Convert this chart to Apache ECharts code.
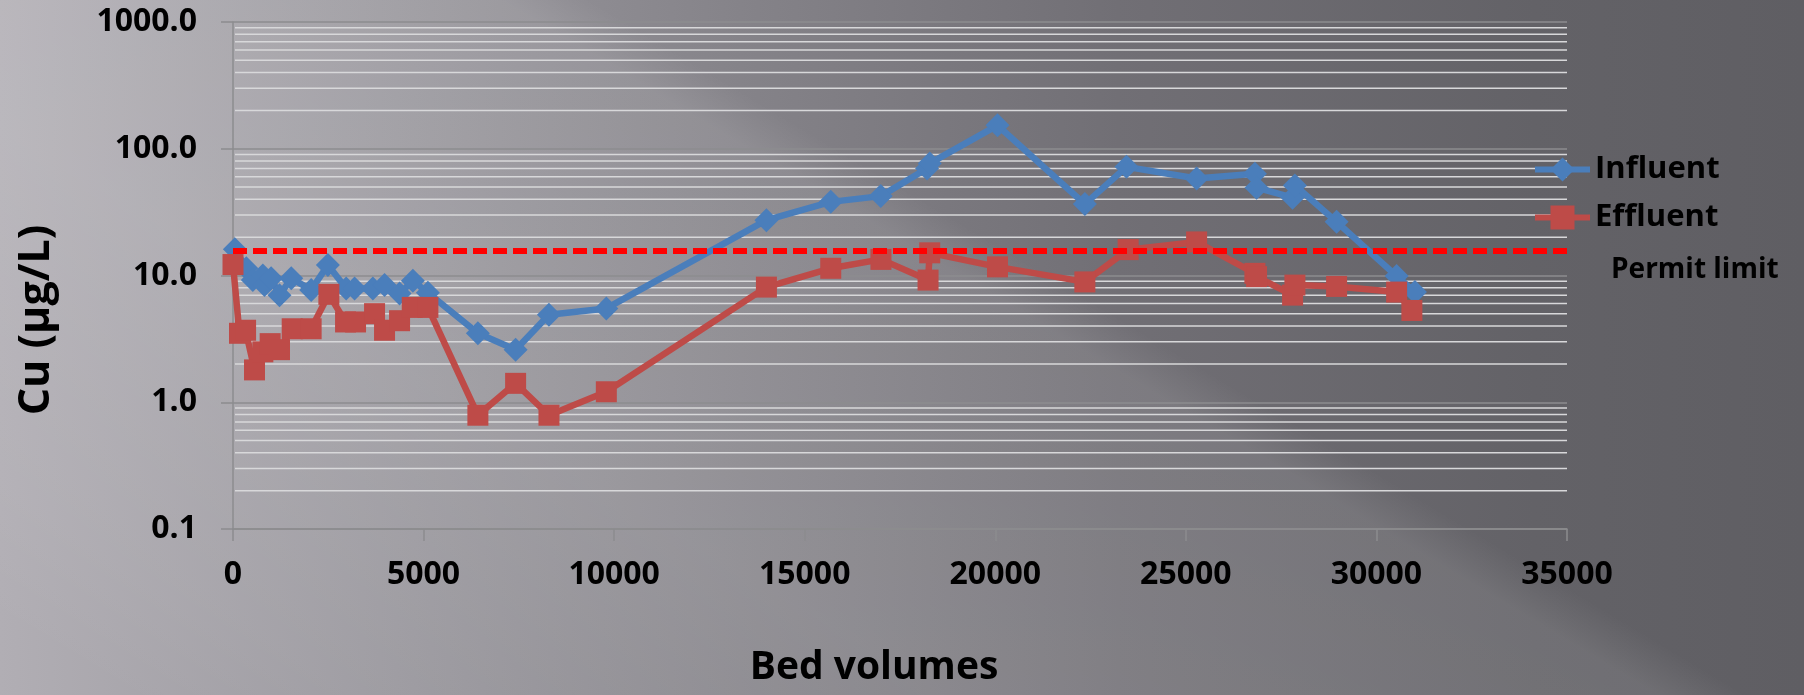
<!DOCTYPE html>
<html lang="en">
<head>
<meta charset="utf-8">
<title>Cu - bed volumes</title>
<script src="https://cdn.jsdelivr.net/npm/echarts@6/dist/echarts.min.js"></script>
<style>
    html, body { margin: 0; padding: 0; width: 100%; height: 100%; overflow: hidden; }
    body {
        background:
            linear-gradient(211deg, rgba(255,255,255,0) 41%, rgba(255,255,255,0.09) 44%, rgba(255,255,255,0.12) 68%, rgba(255,255,255,0.05) 88%, rgba(255,255,255,0) 96%),
            linear-gradient(90deg, #b1aeb4 0%, #99979d 22%, #848288 42%, #716f75 62%, #636267 85%, #5f5e63 100%);
    }
    #main { width: 1804px; height: 695px; }
</style>
</head>
<body>
<div id="main"></div>
<script type="text/javascript">
    // bed volumes / Cu (µg/L)
    const influentBV = [50, 350, 520, 783, 827, 1000, 1220, 1528, 2052, 2490, 2970, 3190, 3670, 3976, 4370, 4720, 5113,
        6425, 7415, 8290, 9795, 13995, 15683, 16995, 18210, 18280, 20058, 22350, 23443, 25282, 26811, 26855, 27800, 27861,
        28955, 30530, 31010];
    const influentCu = [16.1, 11.4, 9.2, 10.0, 8.4, 9.5, 7.0, 9.5, 7.7, 12.1, 7.9, 7.9, 7.9, 8.4, 7.2, 9.1, 7.3,
        3.5, 2.6, 4.9, 5.5, 27.3, 38.1, 42.3, 69.8, 76.6, 153, 36.6, 72, 58.2, 63.5, 49.3, 41.1, 51.4,
        26.5, 9.9, 7.4];

    const effluentBV = [0, 170, 330, 564, 783, 975, 1220, 1553, 2050, 2515, 2953, 3215, 3714, 3976, 4370, 4703, 5113,
        6425, 7415, 8290, 9795, 13995, 15683, 17000, 18236, 18280, 20058, 22350, 23486, 25282, 26811, 26855, 27800, 27861,
        28955, 30530, 30930];
    const effluentCu = [12.2, 3.5, 3.7, 1.8, 2.5, 2.9, 2.6, 3.8, 3.8, 7.1, 4.3, 4.3, 5.0, 3.7, 4.4, 5.6, 5.6,
        0.79, 1.41, 0.79, 1.21, 8.1, 11.4, 13.4, 9.2, 15.1, 11.7, 8.9, 16.0, 18.4, 10.4, 9.8, 7.0, 8.4,
        8.2, 7.4, 5.3];

    const permitLimit = 15.6;
    const permitBV = [0, 35000];

    // light gridlines between the decades
    const minorTicks = [0.2, 0.3, 0.4, 0.5, 0.6, 0.7, 0.8, 0.9,
        2, 3, 4, 5, 6, 7, 8, 9,
        20, 30, 40, 50, 60, 70, 80, 90,
        200, 300, 400, 500, 600, 700, 800, 900];

    const font = '"Open Sans", "Noto Sans", sans-serif';
    const axisGrey = '#8c8c8f';

    function pairs(xs, ys) {
        return xs.map(function (x, i) { return [x, ys[i]]; });
    }

    let myChart = echarts.init(document.getElementById('main'), null, {renderer: 'canvas'});
    const option = {
        animation: false,
        backgroundColor: 'transparent',
        grid: {left: 233, right: 237, top: 22, bottom: 166},
        legend: {
            data: ['Influent', 'Effluent'],
            orient: 'vertical',
            left: 1527,
            top: 149,
            itemWidth: 55,
            itemHeight: 30,
            itemGap: 17,
            lineStyle: {width: 6},
            textStyle: {fontFamily: font, fontWeight: 'bold', fontSize: 31, color: '#000'}
        },
        graphic: [{
            type: 'text',
            left: 1611,
            top: 256,
            style: {text: 'Permit limit', fill: '#000', font: 'bold 28px ' + font}
        }, {
            type: 'text',
            x: 37,
            y: 320,
            rotation: Math.PI / 2,
            style: {
                text: 'Cu (µg/L)', fill: '#000', font: 'bold 43px ' + font,
                align: 'center', verticalAlign: 'middle'
            }
        }],
        xAxis: {
            type: 'value',
            min: 0,
            max: 35000,
            interval: 5000,
            name: 'Bed volumes',
            nameLocation: 'middle',
            nameGap: 119,
            nameTextStyle: {fontFamily: font, fontWeight: 'bold', fontSize: 39, color: '#000', padding: [0, 52, 0, 0]},
            axisLine: {lineStyle: {color: axisGrey, width: 1.5}},
            axisTick: {show: true, length: 12, lineStyle: {color: axisGrey, width: 1.5}},
            axisLabel: {
                margin: 30, fontFamily: font, fontWeight: 'bold', fontSize: 32, color: '#000',
                formatter: function (v) { return String(v); }
            },
            splitLine: {show: false}
        },
        yAxis: {
            type: 'log',
            logBase: 10,
            min: 0.1,
            max: 1000,
            axisLine: {show: true, lineStyle: {color: axisGrey, width: 1.5}},
            axisTick: {show: true, length: 12, lineStyle: {color: axisGrey, width: 1.5}},
            axisLabel: {
                margin: 36, fontFamily: font, fontWeight: 'bold', fontSize: 32, color: '#000',
                formatter: function (v) { return Number(v).toFixed(1); }
            },
            splitLine: {show: true, lineStyle: {color: axisGrey, width: 1.5}}
        },
        series: [{
            name: 'minor',
            type: 'custom',
            silent: true,
            z: 1,
            data: minorTicks,
            renderItem: function (params, api) {
                const a = api.coord([0, api.value(0)]);
                const b = api.coord([35000, api.value(0)]);
                return {
                    type: 'line',
                    shape: {x1: a[0] + 2, y1: a[1], x2: b[0], y2: b[1]},
                    style: {stroke: '#d8d8da', lineWidth: 1.5}
                };
            },
            encode: {y: 0}
        }, {
            name: 'Influent',
            type: 'line',
            z: 3,
            data: pairs(influentBV, influentCu),
            symbol: 'diamond',
            symbolSize: 24,
            color: '#4a7ebb',
            lineStyle: {width: 6.5, color: '#4a7ebb'},
            itemStyle: {color: '#4a7ebb'}
        }, {
            name: 'Effluent',
            type: 'line',
            z: 4,
            data: pairs(effluentBV, effluentCu),
            symbol: 'rect',
            symbolSize: 21,
            color: '#be4b48',
            lineStyle: {width: 6.5, color: '#be4b48'},
            itemStyle: {color: '#be4b48'}
        }, {
            name: 'Permit limit',
            type: 'line',
            z: 5,
            silent: true,
            data: permitBV.map(function (x) { return [x, permitLimit]; }),
            symbol: 'none',
            lineStyle: {width: 6, color: '#ff0000', type: [14, 6]}
        }]
    };
    myChart.setOption(option);
</script>
</body>
</html>
